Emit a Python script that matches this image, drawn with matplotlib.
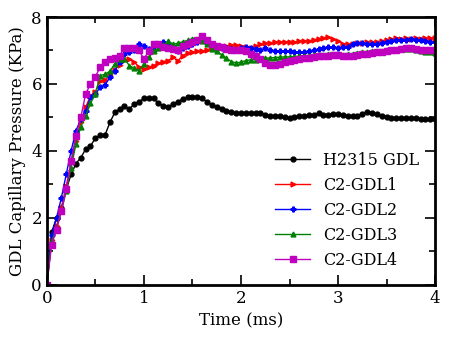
import numpy as np
import matplotlib
matplotlib.use('Agg')
import matplotlib.pyplot as plt
from matplotlib.ticker import MultipleLocator

plt.rcParams['font.family'] = 'DejaVu Serif'

t = np.arange(81) * 0.05   # time in ms

h2315 = [0, 1.58, 2.0, 2.3, 2.85, 3.3, 3.62, 3.8, 4.05, 4.15, 4.38, 4.48, 4.48, 4.85, 5.15, 5.25,
         5.33, 5.25, 5.4, 5.47, 5.57, 5.57, 5.57, 5.42, 5.35, 5.32, 5.4, 5.47, 5.55, 5.6, 5.6,
         5.6, 5.57, 5.47, 5.38, 5.3, 5.25, 5.2, 5.15, 5.13, 5.12, 5.12, 5.12, 5.12, 5.12, 5.08,
         5.05, 5.05, 5.03, 5.0, 4.97, 5.0, 5.03, 5.04, 5.06, 5.07, 5.14, 5.08, 5.08, 5.1, 5.1,
         5.07, 5.04, 5.04, 5.04, 5.1, 5.15, 5.12, 5.1, 5.05, 5.02, 4.98, 4.98, 4.98, 4.98, 4.97,
         4.97, 4.96, 4.95, 4.94, 4.95]
gdl1 = [0, 1.35, 1.75, 2.3, 2.95, 3.65, 4.3, 4.85, 5.3, 5.65, 5.77, 6.1, 6.12, 6.28, 6.42, 6.58,
        6.72, 6.74, 6.66, 6.5, 6.45, 6.5, 6.55, 6.62, 6.67, 6.7, 6.8, 6.69, 6.85, 6.92, 6.94,
        6.97, 6.98, 7.02, 7.07, 7.08, 7.12, 7.14, 7.16, 7.15, 7.14, 7.1, 7.08, 7.13, 7.18, 7.21,
        7.23, 7.25, 7.26, 7.26, 7.26, 7.26, 7.27, 7.28, 7.29, 7.32, 7.35, 7.38, 7.4, 7.33, 7.28,
        7.2, 7.19, 7.2, 7.22, 7.22, 7.24, 7.24, 7.26, 7.29, 7.31, 7.34, 7.36, 7.35, 7.36, 7.35,
        7.36, 7.35, 7.36, 7.36, 7.36]
gdl2 = [0, 1.5, 2.0, 2.6, 3.3, 4.0, 4.6, 4.95, 5.2, 5.6, 5.7, 5.9, 5.97, 6.2, 6.4, 6.65,
        6.9, 6.94, 7.02, 7.18, 7.12, 7.05, 7.01, 7.18, 7.25, 7.22, 7.13, 6.98, 7.06, 7.12, 7.2,
        7.26, 7.3, 7.22, 7.15, 7.1, 7.07, 7.06, 7.04, 7.02, 7.06, 7.09, 7.06, 7.04, 7.0, 7.06,
        7.0, 6.98, 6.98, 6.99, 6.97, 6.95, 6.95, 6.96, 6.97, 7.0, 7.04, 7.07, 7.1, 7.1, 7.08,
        7.09, 7.11, 7.18, 7.21, 7.21, 7.2, 7.19, 7.18, 7.22, 7.26, 7.27, 7.3, 7.31, 7.32, 7.34,
        7.32, 7.3, 7.28, 7.26, 7.24]
gdl3 = [0, 1.3, 1.7, 2.2, 2.8, 3.5, 4.2, 4.72, 5.05, 5.42, 5.7, 6.25, 6.29, 6.38, 6.6, 6.75,
        6.75, 6.55, 6.47, 6.4, 6.6, 6.8, 6.97, 7.06, 7.15, 7.28, 7.18, 7.22, 7.26, 7.3, 7.35,
        7.33, 7.27, 7.18, 7.05, 6.97, 6.87, 6.77, 6.67, 6.63, 6.65, 6.7, 6.72, 6.73, 6.74, 6.77,
        6.78, 6.79, 6.8, 6.81, 6.81, 6.82, 6.83, 6.84, 6.85, 6.86, 6.87, 6.88, 6.89, 6.89, 6.88,
        6.88, 6.89, 6.91, 6.93, 6.95, 6.96, 6.97, 6.98, 6.99, 7.0, 7.01, 7.02, 7.03, 7.04, 7.04,
        7.01, 6.98, 6.96, 6.94, 6.93]
gdl4 = [0, 1.2, 1.65, 2.2, 2.85, 3.7, 4.45, 5.0, 5.7, 6.0, 6.22, 6.5, 6.65, 6.74, 6.77, 6.85,
        7.08, 7.07, 7.07, 7.0, 6.75, 6.98, 7.2, 7.18, 7.1, 7.07, 7.05, 7.02, 7.12, 7.18, 7.26,
        7.32, 7.42, 7.3, 7.2, 7.14, 7.1, 7.04, 7.02, 7.01, 7.0, 6.97, 6.9, 6.84, 6.75, 6.62,
        6.58, 6.57, 6.6, 6.65, 6.68, 6.71, 6.74, 6.77, 6.79, 6.81, 6.83, 6.84, 6.85, 6.86, 6.86,
        6.85, 6.84, 6.85, 6.87, 6.89, 6.91, 6.92, 6.94, 6.96, 6.98, 7.0, 7.02, 7.04, 7.06, 7.07,
        7.04, 7.01, 7.0, 7.0, 7.0]

fig = plt.figure(figsize=(4.5, 3.4), dpi=100)
ax = fig.add_axes([0.104, 0.162, 0.863, 0.788])

ax.plot(t, h2315, color='black', marker='o', ms=3.5, lw=1, label='H2315 GDL')
ax.plot(t, gdl1, color='red', marker='>', ms=3.5, lw=1, label='C2-GDL1')
ax.plot(t, gdl2, color='blue', marker='P', ms=3.5, lw=1, label='C2-GDL2')
ax.plot(t, gdl3, color='green', marker='^', ms=3.5, lw=1, label='C2-GDL3')
ax.plot(t, gdl4, color='m', marker='s', ms=4, lw=1, label='C2-GDL4')

ax.set_xlim(0, 4)
ax.set_ylim(0, 8)
ax.xaxis.set_major_locator(MultipleLocator(1))
ax.xaxis.set_minor_locator(MultipleLocator(0.5))
ax.yaxis.set_major_locator(MultipleLocator(2))
ax.yaxis.set_minor_locator(MultipleLocator(1))
ax.tick_params(which='both', direction='in', top=True, right=True, labelsize=12, width=1.2)
ax.tick_params(which='major', length=7)
ax.tick_params(which='minor', length=4)
for s in ax.spines.values():
    s.set_linewidth(2)

ax.set_xlabel('Time (ms)', fontsize=12)
ax.set_ylabel('GDL Capillary Pressure (KPa)', fontsize=12)
ax.legend(loc='lower right', frameon=False, fontsize=11.5, handlelength=2.2, borderaxespad=0.6)

plt.savefig('out.png', dpi=100)
